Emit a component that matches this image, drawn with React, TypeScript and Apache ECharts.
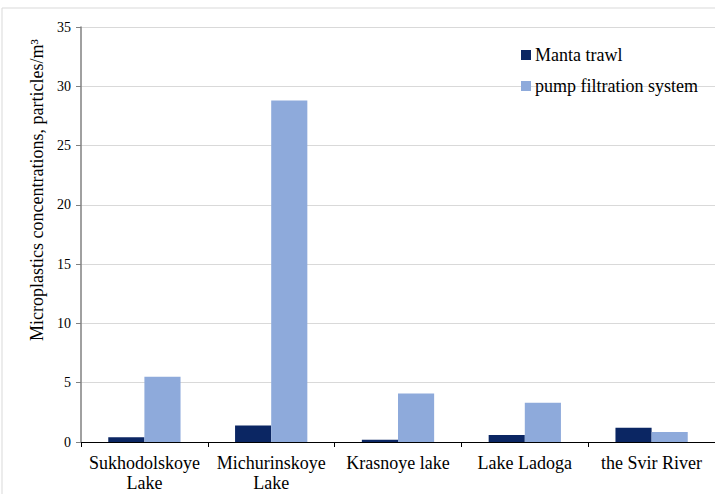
import React, { useEffect, useRef } from "react";
import * as echarts from "echarts";

const categories = ["Sukhodolskoye\nLake", "Michurinskoye\nLake", "Krasnoye lake", "Lake Ladoga", "the Svir River"];
const mantaTrawl = [0.4, 1.4, 0.2, 0.6, 1.2];
const pumpFiltration = [5.5, 28.8, 4.1, 3.3, 0.85];
const yTicks = { min: 0, max: 35, interval: 5 };
const yTitle = "Microplastics concentrations, particles/m³";

const FONT = "Times New Roman, Liberation Serif, DejaVu Serif, serif";

export default function App() {
  const ref = useRef<HTMLDivElement>(null);
  useEffect(() => {
    if (!ref.current) return;
    const chart = echarts.init(ref.current, undefined, { renderer: "svg" });
    chart.setOption({
      animation: false,
      backgroundColor: "#ffffff",
      textStyle: { fontFamily: FONT },
      graphic: [
        {
          type: "rect",
          shape: { x: 2, y: 8, width: 720, height: 500 },
          style: { fill: "none", stroke: "#d9d9d9", lineWidth: 1 },
          silent: true,
          z: -1,
        },
        {
          type: "text",
          x: 37,
          y: 190,
          rotation: Math.PI / 2,
          style: {
            text: yTitle,
            fontFamily: FONT,
            fontSize: 18,
            fill: "#000",
            align: "center",
            verticalAlign: "middle",
          },
          silent: true,
        },
      ],
      legend: {
        orient: "vertical",
        left: 516,
        top: 41,
        itemWidth: 10,
        itemHeight: 10,
        itemGap: 13,
        icon: "rect",
        textStyle: { fontFamily: FONT, fontSize: 18, color: "#000", padding: [0, 0, 0, -1] },
        data: ["Manta trawl", "pump filtration system"],
      },
      grid: { left: 81, top: 27, right: -8, bottom: 52, containLabel: false },
      xAxis: {
        type: "category",
        data: categories,
        axisLine: { lineStyle: { color: "#000", width: 1 } },
        axisTick: { show: true, alignWithLabel: false, length: 5, lineStyle: { color: "#000" } },
        axisLabel: {
          interval: 0,
          fontFamily: FONT,
          fontSize: 18,
          color: "#000",
          margin: 11,
          lineHeight: 20,
        },
      },
      yAxis: {
        type: "value",
        min: yTicks.min,
        max: yTicks.max,
        interval: yTicks.interval,
        axisLine: { show: true, lineStyle: { color: "#808080", width: 1.5 } },
        axisTick: { show: true, length: 5, lineStyle: { color: "#808080" } },
        axisLabel: { fontFamily: FONT, fontSize: 14, color: "#000", margin: 10 },
        splitLine: { lineStyle: { color: "#d9d9d9", width: 1 } },
      },
      series: [
        {
          name: "Manta trawl",
          type: "bar",
          data: mantaTrawl,
          itemStyle: { color: "#0b2663" },
          barGap: "0%",
          barCategoryGap: "43%",
        },
        {
          name: "pump filtration system",
          type: "bar",
          data: pumpFiltration,
          itemStyle: { color: "#8eaadb" },
          barGap: "0%",
          barCategoryGap: "43%",
        },
      ],
    });
    return () => chart.dispose();
  }, []);
  return (
    <div
      ref={ref}
      style={{ position: "fixed", left: 0, top: 0, width: 715, height: 494 }}
    />
  );
}
